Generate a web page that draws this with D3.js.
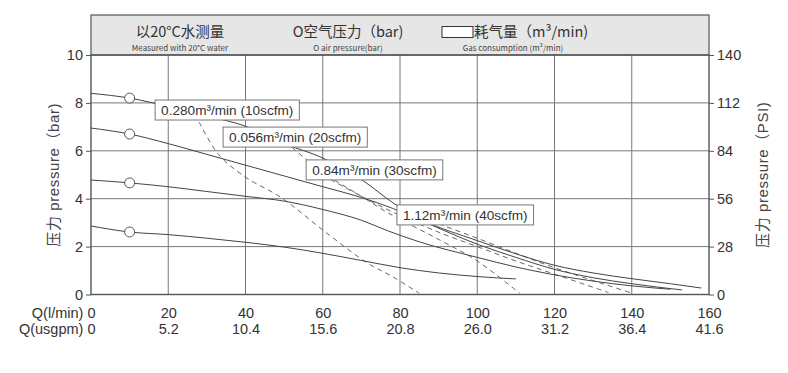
<!DOCTYPE html>
<html>
<head>
<meta charset="utf-8">
<script src="https://cdn.jsdelivr.net/npm/d3@7"></script>
<style>
body { margin: 0; background: #fff; }
svg text { font-family: "Liberation Sans", Arial, sans-serif; fill: #333; }
.cn { font-family: "Noto Sans CJK SC", "Liberation Sans", sans-serif; }
.mix { font-family: "Liberation Sans", "Noto Sans CJK SC", sans-serif; }
</style>
</head>
<body>
<div id="svg-container"></div>
<script>
const w = 788;
const h = 373;

// x axis: flow in l/min, second row in usgpm
const qTicks = [0, 20, 40, 60, 80, 100, 120, 140, 160];
const usgpmLabels = ["0", "5.2", "10.4", "15.6", "20.8", "26.0", "31.2", "36.4", "41.6"];
// y axis: bar on the left, PSI on the right
const barTicks = [0, 2, 4, 6, 8, 10];
const psiLabels = [0, 28, 56, 84, 112, 140];

// solid curves: outlet pressure at a given air pressure ([Q, bar])
const curve8bar = [[0, 8.4], [10, 8.2], [20, 7.85], [30, 7.45], [40, 7.03], [50, 6.3], [60, 5.7], [70, 4.8], [79, 3.74], [86, 3.1], [100, 2.25], [110, 1.7], [120, 1.22], [130, 0.9], [140, 0.66], [150, 0.45], [158, 0.27]];
const curve6bar = [[0, 6.95], [10, 6.7], [20, 6.3], [30, 5.85], [40, 5.4], [50, 4.95], [60, 4.5], [70, 4.05], [78, 3.6], [86, 3.05], [100, 2.1], [110, 1.55], [120, 1.05], [130, 0.7], [140, 0.45], [153, 0.19]];
const curve4bar = [[0, 4.78], [10, 4.66], [20, 4.5], [30, 4.3], [40, 4.1], [50, 3.9], [60, 3.55], [70, 3.1], [77, 2.65], [85, 2.2], [100, 1.55], [110, 1.15], [120, 0.82], [130, 0.56], [140, 0.36], [150, 0.22]];
const curve2bar = [[0, 2.86], [10, 2.61], [20, 2.5], [30, 2.35], [40, 2.18], [50, 1.98], [60, 1.72], [70, 1.42], [80, 1.12], [90, 0.9], [100, 0.75], [110, 0.65]];

// dashed curves: constant air consumption
const air10scfm = [[28, 7.2], [33, 5.85], [40, 4.9], [49, 4.07], [61, 2.57], [71.5, 1.32], [78, 0.75], [85, 0.05]];
const air20scfm = [[52, 6.15], [60, 5.1], [70, 4.1], [77, 3.4], [90, 2.3], [100, 1.4], [111, 0.05]];
const air30scfm = [[62, 4.8], [70, 4.1], [78, 3.45], [90, 2.6], [100, 2.0], [110, 1.4], [120, 0.85], [134, 0.08]];
const air40scfm = [[90, 2.95], [100, 2.35], [110, 1.72], [120, 1.12], [130, 0.58], [140, 0.06]];

const airLabels = ["0.280m³/min (10scfm)", "0.056m³/min (20scfm)", "0.84m³/min (30scfm)", "1.12m³/min (40scfm)"];

const pad = { left: 91, right: 79, top: 55, bottom: 78.5 };

let xScale = d3.scaleLinear()
                .domain([0, 160])
                .range([pad.left, w - pad.right]);

let yScale = d3.scaleLinear()
                .domain([0, 10])
                .range([h - pad.bottom, pad.top]);

let yPsi = d3.scaleLinear()
                .domain([0, 140])
                .range([h - pad.bottom, pad.top]);

const svg = d3.select("#svg-container")
                .append("svg")
                .attr("width", w)
                .attr("height", h);

// header band
svg.append("rect")
    .attr("x", pad.left)
    .attr("y", 15)
    .attr("width", w - pad.left - pad.right)
    .attr("height", pad.top - 15)
    .attr("fill", "#e6e6e6")
    .attr("stroke", "#555")
    .attr("stroke-width", 1.2);

const header = [
    { t: "以20°C水测量", s: "Measured with 20°C water", x: 180 },
    { t: "O空气压力（bar)", s: "O air pressure(bar)", x: 348 },
];
header.forEach(d => {
    svg.append("text").attr("class", "cn").attr("x", d.x).attr("y", 36.5)
        .attr("text-anchor", "middle").style("font-size", "14.5px").style("fill", "#333").text(d.t);
    svg.append("text").attr("class", "cn").attr("x", d.x).attr("y", 51)
        .attr("text-anchor", "middle").style("font-size", "8px").style("fill", "#444").text(d.s);
});
svg.append("rect")
    .attr("x", 442).attr("y", 26.5).attr("width", 31).attr("height", 11)
    .attr("fill", "#fff").attr("stroke", "#333").attr("stroke-width", 1);
svg.append("text").attr("class", "cn").attr("x", 474).attr("y", 36.5)
    .style("font-size", "14.5px").style("fill", "#333").text("耗气量（m³/min)");
svg.append("text").attr("class", "cn").attr("x", 513).attr("y", 51)
    .attr("text-anchor", "middle").style("font-size", "8px").style("fill", "#444").text("Gas consumption (m³/min)");

// grid
svg.append("g")
    .selectAll("line")
    .data(qTicks.slice(1, -1))
    .enter()
    .append("line")
    .attr("x1", d => xScale(d)).attr("x2", d => xScale(d))
    .attr("y1", yScale(0)).attr("y2", yScale(10))
    .attr("stroke", "#777").attr("stroke-width", 1);

svg.append("g")
    .selectAll("line")
    .data(barTicks.slice(1, -1))
    .enter()
    .append("line")
    .attr("x1", xScale(0)).attr("x2", xScale(160))
    .attr("y1", d => yScale(d)).attr("y2", d => yScale(d))
    .attr("stroke", "#777").attr("stroke-width", 1);

svg.append("rect")
    .attr("x", xScale(0)).attr("y", yScale(10))
    .attr("width", xScale(160) - xScale(0))
    .attr("height", yScale(0) - yScale(10))
    .attr("fill", "none").attr("stroke", "#555").attr("stroke-width", 1.4);

// curves
let line = d3.line()
    .x(d => xScale(d[0]))
    .y(d => yScale(d[1]))
    .curve(d3.curveMonotoneX);

let lineDash = d3.line()
    .x(d => xScale(d[0]))
    .y(d => yScale(d[1]))
    .curve(d3.curveCatmullRom);

const solidCurves = [curve8bar, curve6bar, curve4bar, curve2bar];
const dashedCurves = [air10scfm, air20scfm, air30scfm, air40scfm];

svg.append("g")
    .selectAll("path")
    .data(dashedCurves)
    .enter()
    .append("path")
    .attr("d", lineDash)
    .attr("fill", "none")
    .attr("stroke", "#666")
    .attr("stroke-width", 1)
    .attr("stroke-dasharray", "5,4");

svg.append("g")
    .selectAll("path")
    .data(solidCurves)
    .enter()
    .append("path")
    .attr("d", line)
    .attr("fill", "none")
    .attr("stroke", "#444")
    .attr("stroke-width", 1);

// air pressure markers at Q = 10
svg.append("g")
    .selectAll("circle")
    .data(solidCurves.map(c => c[1]))
    .enter()
    .append("circle")
    .attr("cx", d => xScale(d[0]))
    .attr("cy", d => yScale(d[1]))
    .attr("r", 5)
    .attr("fill", "#fff")
    .attr("stroke", "#555")
    .attr("stroke-width", 1);

// air consumption labels, anchored at their top-left corner in data units
const labelAnchor = [[16.6, 8.12], [34.2, 6.99], [55.7, 5.62], [79.2, 3.74]];
airLabels.forEach((t, i) => {
    let g = svg.append("g")
        .attr("transform", "translate(" + xScale(labelAnchor[i][0]) + "," + yScale(labelAnchor[i][1]) + ")");
    let box = g.append("rect")
        .attr("height", 20)
        .attr("fill", "#fff")
        .attr("stroke", "#777")
        .attr("stroke-width", 1);
    let txt = g.append("text")
        .attr("x", 6).attr("y", 15)
        .style("font-size", "13.6px")
        .style("fill", "#333")
        .text(t);
    box.attr("width", txt.node().getComputedTextLength() + 12);
});

// axes
let yAxis = d3.axisLeft(yScale).tickValues(barTicks).tickSize(5).tickPadding(3);
let psiAxis = d3.axisRight(yPsi).tickValues(psiLabels).tickSize(5).tickPadding(3);

function styleAxis(g) {
    g.select(".domain").remove();
    g.selectAll("line").attr("stroke", "#555");
    g.selectAll("text").style("font-size", "14.5px").style("fill", "#333")
        .style("font-family", '"Liberation Sans", Arial, sans-serif');
}

svg.append("g")
    .attr("transform", "translate(" + xScale(0) + ", 0)")
    .attr("id", "y-axis")
    .call(yAxis)
    .call(styleAxis);

svg.append("g")
    .attr("transform", "translate(" + xScale(160) + ", 0)")
    .attr("id", "psi-axis")
    .call(psiAxis)
    .call(styleAxis);

let xAxis = d3.axisBottom(xScale).tickValues(qTicks).tickSize(0).tickPadding(13);
let xAxis2 = d3.axisBottom(xScale).tickValues(qTicks).tickSize(0).tickPadding(29)
    .tickFormat((d, i) => usgpmLabels[i]);

[xAxis, xAxis2].forEach((ax, k) => {
    let g = svg.append("g")
        .attr("transform", "translate(0, " + yScale(0) + ")")
        .call(ax)
        .call(styleAxis);
    g.selectAll("text")
        .filter(d => d === 0)
        .attr("text-anchor", "end")
        .attr("dx", 4)
        .text(k === 0 ? "Q(l/min) 0" : "Q(usgpm) 0");
});

// axis titles
svg.append("text")
    .attr("class", "mix")
    .attr("transform", "translate(59," + yScale(5) + ") rotate(-90)")
    .attr("text-anchor", "middle")
    .style("font-size", "15px")
    .style("letter-spacing", "0.6px")
    .style("fill", "#444")
    .text("压力 pressure（bar)");

svg.append("text")
    .attr("class", "mix")
    .attr("transform", "translate(768," + yScale(5) + ") rotate(-90)")
    .attr("text-anchor", "middle")
    .style("font-size", "15px")
    .style("letter-spacing", "0.6px")
    .style("fill", "#444")
    .text("压力 pressure（PSI)");
</script>
</body>
</html>
